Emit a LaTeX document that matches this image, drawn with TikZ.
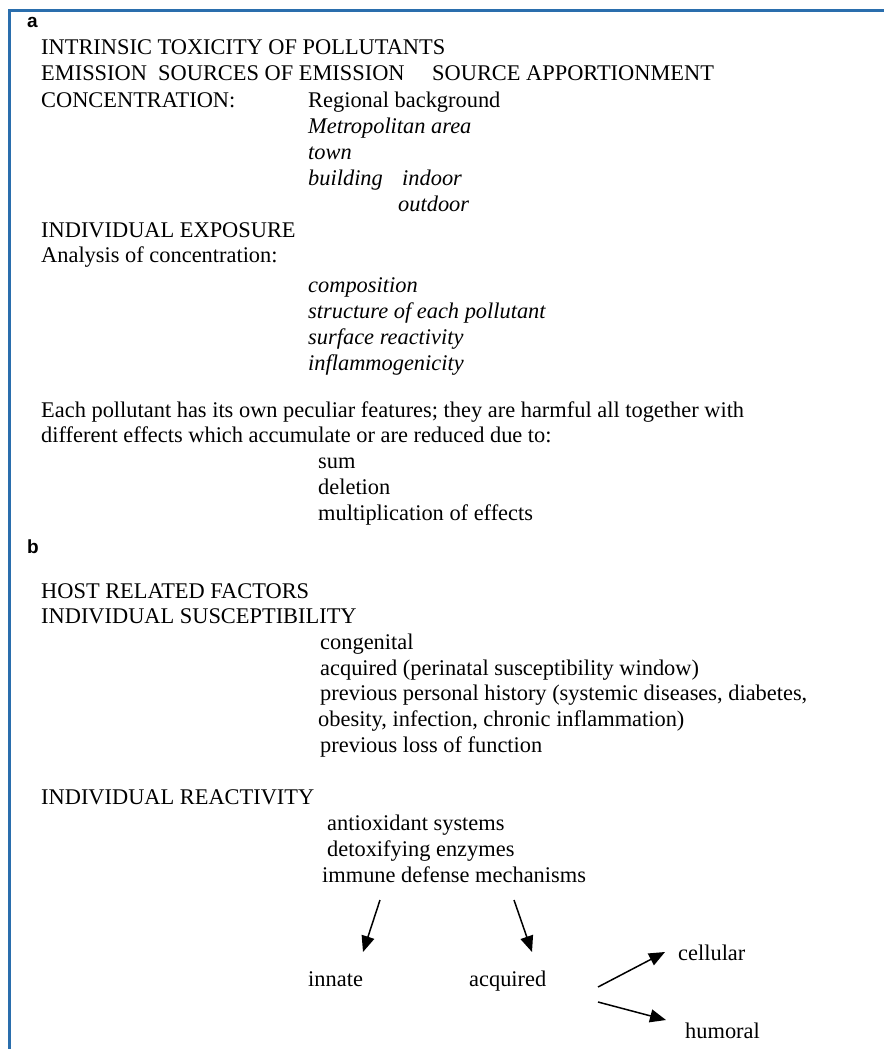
\documentclass[tikz,border=0pt]{standalone}
\usepackage{fontspec}
\setmainfont{Liberation Serif}
\newfontfamily\lblfont{Liberation Sans}
\usetikzlibrary{arrows.meta}
\definecolor{framecol}{HTML}{2A6EAD}
\begin{document}
\begin{tikzpicture}[x=1pt,y=-1pt,
  txt/.style={anchor=base west,inner sep=0pt,font=\fontsize{22.4}{26}\selectfont},
  itx/.style={anchor=base west,inner sep=0pt,font=\fontsize{22.4}{26}\selectfont\itshape},
  lbl/.style={anchor=base west,inner sep=0pt,font=\lblfont\bfseries\fontsize{19}{22}\selectfont},
  arr/.style={-{Triangle[length=16pt,width=13pt]},line width=1.5pt},
  frameline/.style={draw=framecol,line width=3pt}]
\useasboundingbox (0,0) rectangle (884,1049);
\draw[frameline] (9,1049) -- (9,11) -- (884,11);
% ---- part a
\node[lbl] (la) at (27,28) {a};
\node[txt] (intr) at (41,55) {INTRINSIC TOXICITY OF POLLUTANTS};
\node[txt] (emis) at (41,81) {EMISSION};
\node[txt] (srcs) at (158,81) {SOURCES OF EMISSION};
\node[txt] (appo) at (432,81) {SOURCE APPORTIONMENT};
\node[txt] (conc) at (41,107) {CONCENTRATION:};
\node[txt] (regi) at (308,107) {Regional background};
\node[itx] (metr) at (308,133) {Metropolitan area};
\node[itx] (town) at (308,159) {town};
\node[itx] (buil) at (308,185) {building};
\node[itx] (indo) at (402,185) {indoor};
\node[itx] (outd) at (398,211) {outdoor};
\node[txt] (iexp) at (41,237) {INDIVIDUAL EXPOSURE};
\node[txt] (anal) at (41,262) {Analysis of concentration:};
\node[itx] (comp) at (308,292) {composition};
\node[itx] (stru) at (308,318) {structure of each pollutant};
\node[itx] (surf) at (308,344) {surface reactivity};
\node[itx] (infl) at (308,370) {inflammogenicity};
\node[txt] (each) at (41,417) {Each pollutant has its own peculiar features; they are harmful all together with};
\node[txt] (diff) at (41,442) {different effects which accumulate or are reduced due to:};
\node[txt] (sum) at (318,468) {sum};
\node[txt] (dele) at (318,494) {deletion};
\node[txt] (mult) at (318,520) {multiplication of effects};
% ---- part b
\node[lbl] (lb) at (27,553) {b};
\node[txt] (host) at (41,598) {HOST RELATED FACTORS};
\node[txt] (isus) at (41,623) {INDIVIDUAL SUSCEPTIBILITY};
\node[txt] (cong) at (320,649) {congenital};
\node[txt] (acqp) at (320,675) {acquired (perinatal susceptibility window)};
\node[txt] (prev) at (320,700) {previous personal history (systemic diseases, diabetes,};
\node[txt] (obes) at (318,726) {obesity, infection, chronic inflammation)};
\node[txt] (loss) at (320,752) {previous loss of function};
\node[txt] (irea) at (41,804) {INDIVIDUAL REACTIVITY};
\node[txt] (anti) at (327,830) {antioxidant systems};
\node[txt] (deto) at (327,856) {detoxifying enzymes};
\node[txt] (immu) at (322,882) {immune defense mechanisms};
\node[txt] (inna) at (308,986) {innate};
\node[txt] (acqu) at (469,986) {acquired};
\node[txt] (cell) at (678,960) {cellular};
\node[txt] (humo) at (685,1038) {humoral};
\coordinate (a1s) at (380,900);
\coordinate (a1e) at (363,952);
\coordinate (a2s) at (514,900);
\coordinate (a2e) at (532,952);
\coordinate (a3s) at (598,987);
\coordinate (a3e) at (665,952);
\coordinate (a4s) at (598,1002);
\coordinate (a4e) at (666,1020);
\draw[arr] (a1s) -- (a1e);
\draw[arr] (a2s) -- (a2e);
\draw[arr] (a3s) -- (a3e);
\draw[arr] (a4s) -- (a4e);
\end{tikzpicture}
\end{document}
